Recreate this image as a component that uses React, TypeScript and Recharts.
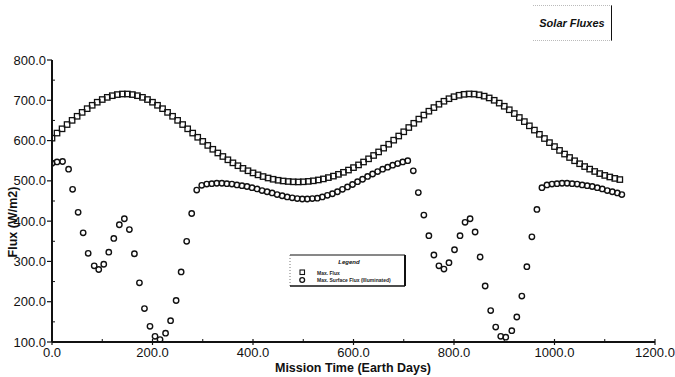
import { ScatterChart, Scatter, XAxis, YAxis } from "recharts";

// Mission day grid for the maximum flux series
const fluxDays = [
  0, 10, 20, 30, 40, 50, 60, 70, 80, 90, 100, 110, 120, 130, 140, 150, 160, 170, 180, 190,
  200, 210, 220, 230, 240, 250, 260, 270, 280, 290, 300, 310, 320, 330, 340, 350, 360, 370, 380, 390,
  400, 410, 420, 430, 440, 450, 460, 470, 480, 490, 500, 510, 520, 530, 540, 550, 560, 570, 580, 590,
  600, 610, 620, 630, 640, 650, 660, 670, 680, 690, 700, 710, 720, 730, 740, 750, 760, 770, 780, 790,
  800, 810, 820, 830, 840, 850, 860, 870, 880, 890, 900, 910, 920, 930, 940, 950, 960, 970, 980, 990,
  1000, 1010, 1020, 1030, 1040, 1050, 1060, 1070, 1080, 1090, 1100, 1110, 1120, 1130,
];
const maxFlux = [
  606, 618.6, 629.2, 639.8, 650.2, 660.3, 670, 679.2, 687.6, 695.2, 701.9, 707.3, 711.4, 714.2, 715.6, 715.6, 714.2, 711.4, 707.3, 701.9,
  695.2, 687.6, 679.2, 670, 660.3, 650.2, 639.8, 629.2, 618.6, 608.2, 598, 588, 578.4, 569.2, 560.5, 552.3, 544.7, 537.6, 531, 525.1,
  519.7, 514.9, 510.7, 507.1, 504, 501.5, 499.7, 498.4, 497.6, 497.3, 497.7, 498.7, 500.1, 502.2, 504.8, 508.1, 511.8, 516.2, 521.2, 526.8,
  532.9, 539.6, 546.8, 554.7, 563, 571.8, 581.2, 590.9, 601, 611.3, 621.8, 632.4, 642.9, 653.3, 663.3, 672.9, 681.9, 690.2, 697.6, 703.9,
  708.9, 712.5, 714.8, 715.8, 715.4, 713.6, 710.3, 705.8, 700, 693, 685.2, 676.5, 667.1, 657.3, 647.1, 636.6, 626, 615.5, 605.1, 594.9,
  585.1, 575.6, 566.5, 558, 549.9, 542.5, 535.5, 529.1, 523.3, 518.1, 513.5, 509.6, 506.1, 503.2,
];

// Surface flux series (own sampling days)
const surfaceDays = [
  0, 10, 21, 33, 41, 52, 62, 72, 84, 93, 103, 113, 123, 134, 144, 154, 164, 174, 184, 195,
  205, 215, 226, 236, 247, 257, 268, 278, 288, 298, 308, 318, 328, 338, 348, 358, 368, 378, 388, 398,
  408, 418, 428, 438, 448, 458, 468, 478, 488, 498, 508, 518, 528, 538, 548, 558, 568, 578, 588, 598,
  608, 618, 628, 638, 648, 658, 668, 678, 688, 698, 708, 719, 729, 740, 750, 760, 770, 780, 790, 801,
  812, 822, 832, 842, 852, 862, 873, 883, 893, 903, 915, 925, 935, 945, 955, 965, 975, 985, 995, 1005,
  1015, 1025, 1035, 1045, 1055, 1065, 1075, 1085, 1095, 1105, 1115, 1125, 1134,
];
const surfaceFlux = [
  544, 547, 548, 529, 479, 422, 371, 320, 289, 280, 293, 323, 357, 391, 406, 379, 319, 247, 183, 139,
  114, 106, 122, 153, 203, 274, 350, 419, 477, 489, 492, 493, 494, 494, 493, 492, 490, 488, 486, 483,
  480, 476, 473, 470, 466, 463, 460, 458, 456, 455, 455, 456, 457, 460, 464, 468, 473, 479, 485, 491,
  498, 504, 511, 517, 523, 529, 534, 539, 543, 547, 550, 525, 471, 415, 364, 316, 289, 281, 297, 329,
  364, 397, 406, 373, 311, 239, 178, 137, 114, 112, 128, 162, 214, 287, 361, 429, 483, 490, 492, 493,
  494, 494, 493, 492, 490, 488, 486, 483, 480, 476, 473, 470, 466,
];

const xTicks = [0, 100, 200, 300, 400, 500, 600, 700, 800, 900, 1000, 1100, 1200];
const yTicks = [100, 150, 200, 250, 300, 350, 400, 450, 500, 550, 600, 650, 700, 750, 800];

const FONT = "'Liberation Sans', Arial, sans-serif";

const fluxData = fluxDays.map((day, i) => ({ day, flux: maxFlux[i] }));
const surfaceData = surfaceDays.map((day, i) => ({ day, flux: surfaceFlux[i] }));

const SquareDot = (props: any) => {
  const { cx, cy } = props;
  if (cx == null || cy == null) return null;
  return (
    <rect x={cx - 2.7} y={cy - 2.7} width={5.4} height={5.4} fill="none" stroke="#111" strokeWidth={1.3} />
  );
};

const CircleDot = (props: any) => {
  const { cx, cy } = props;
  if (cx == null || cy == null) return null;
  return <circle cx={cx} cy={cy} r={2.7} fill="none" stroke="#111" strokeWidth={1.4} />;
};

const XTick = (props: any) => {
  const { x, y, payload } = props;
  const major = payload.value % 200 === 0;
  return (
    <g>
      {major ? (
        <line x1={x} x2={x} y1={y - 3} y2={y + 3} stroke="#111" strokeWidth={1.2} />
      ) : (
        <line x1={x} x2={x} y1={y - 3} y2={y} stroke="#111" strokeWidth={1} />
      )}
      {major && (
        <text x={x} y={y + 15} textAnchor="middle" fontSize={13} fontFamily={FONT} fill="#111">
          {payload.value.toFixed(1)}
        </text>
      )}
    </g>
  );
};

const YTick = (props: any) => {
  const { x, y, payload } = props;
  const major = payload.value % 100 === 0;
  return (
    <g>
      {major ? (
        <line x1={x - 5} x2={x} y1={y} y2={y} stroke="#111" strokeWidth={1.2} />
      ) : (
        <line x1={x} x2={x + 3} y1={y} y2={y} stroke="#111" strokeWidth={1} />
      )}
      {major && (
        <text x={x - 6} y={y} dy="0.35em" textAnchor="end" fontSize={13} fontFamily={FONT} fill="#111">
          {payload.value.toFixed(1)}
        </text>
      )}
    </g>
  );
};

export default function App() {
  return (
    <div style={{ position: "absolute", left: 0, top: 0, width: 675, height: 377, background: "#fff" }}>
      <ScatterChart width={675} height={377} margin={{ top: 60, right: 20, bottom: 0, left: 0 }}>
        <XAxis
          type="number"
          dataKey="day"
          domain={[0, 1200]}
          ticks={xTicks}
          interval={0}
          tickSize={0}
          tickMargin={0}
          height={35}
          axisLine={{ stroke: "#111", strokeWidth: 2 }}
          tickLine={false}
          tick={<XTick />}
          allowDataOverflow
        />
        <YAxis
          type="number"
          dataKey="flux"
          domain={[100, 800]}
          ticks={yTicks}
          interval={0}
          tickSize={0}
          tickMargin={0}
          width={52}
          axisLine={{ stroke: "#111", strokeWidth: 2 }}
          tickLine={false}
          tick={<YTick />}
          allowDataOverflow
        />
        <Scatter data={fluxData} shape={<SquareDot />} isAnimationActive={false} />
        <Scatter data={surfaceData} shape={<CircleDot />} isAnimationActive={false} />
        <text x={353} y={372} textAnchor="middle" fontSize={12.5} fontWeight="bold" fontFamily={FONT} fill="#111">
          Mission Time (Earth Days)
        </text>
        <text
          x={17}
          y={222}
          textAnchor="middle"
          fontSize={12.5}
          fontWeight="bold"
          fontFamily={FONT}
          fill="#111"
          transform="rotate(-90 17 222)"
        >
          Flux (W/m2)
        </text>
      </ScatterChart>

      {/* title box */}
      <div
        style={{
          position: "absolute",
          left: 533,
          top: 5,
          width: 78,
          height: 34,
          borderRight: "1.5px solid #111",
          borderTop: "1px dotted #bbb",
          borderBottom: "1px dotted #bbb",
          display: "flex",
          alignItems: "center",
          justifyContent: "center",
          fontFamily: FONT,
          fontSize: 11,
          fontWeight: "bold",
          fontStyle: "italic",
          color: "#111",
        }}
      >
        Solar Fluxes
      </div>

      {/* legend box */}
      <svg style={{ position: "absolute", left: 289, top: 254 }} width={118} height={34}>
        <line x1={1} y1={1} x2={116} y2={1} stroke="#111" strokeWidth={1} />
        <line x1={1} y1={1} x2={1} y2={32} stroke="#777" strokeWidth={1} strokeDasharray="1 2" />
        <line x1={116} y1={1} x2={116} y2={32} stroke="#111" strokeWidth={2} />
        <line x1={1} y1={32} x2={116} y2={32} stroke="#111" strokeWidth={1.5} />
        <text x={60} y={10} textAnchor="middle" fontSize={6} fontWeight="bold" fontStyle="italic" fontFamily={FONT} fill="#111">
          Legend
        </text>
        <rect x={11} y={16} width={4.5} height={4.5} fill="none" stroke="#111" strokeWidth={1.1} />
        <circle cx={13.2} cy={26} r={2.4} fill="none" stroke="#111" strokeWidth={1.3} />
        <text x={28} y={20.5} fontSize={5} fontWeight="bold" fontFamily={FONT} fill="#222">
          Max. Flux
        </text>
        <text x={28} y={27.5} fontSize={5} fontWeight="bold" fontFamily={FONT} fill="#222">
          Max. Surface Flux (Illuminated)
        </text>
      </svg>
    </div>
  );
}
